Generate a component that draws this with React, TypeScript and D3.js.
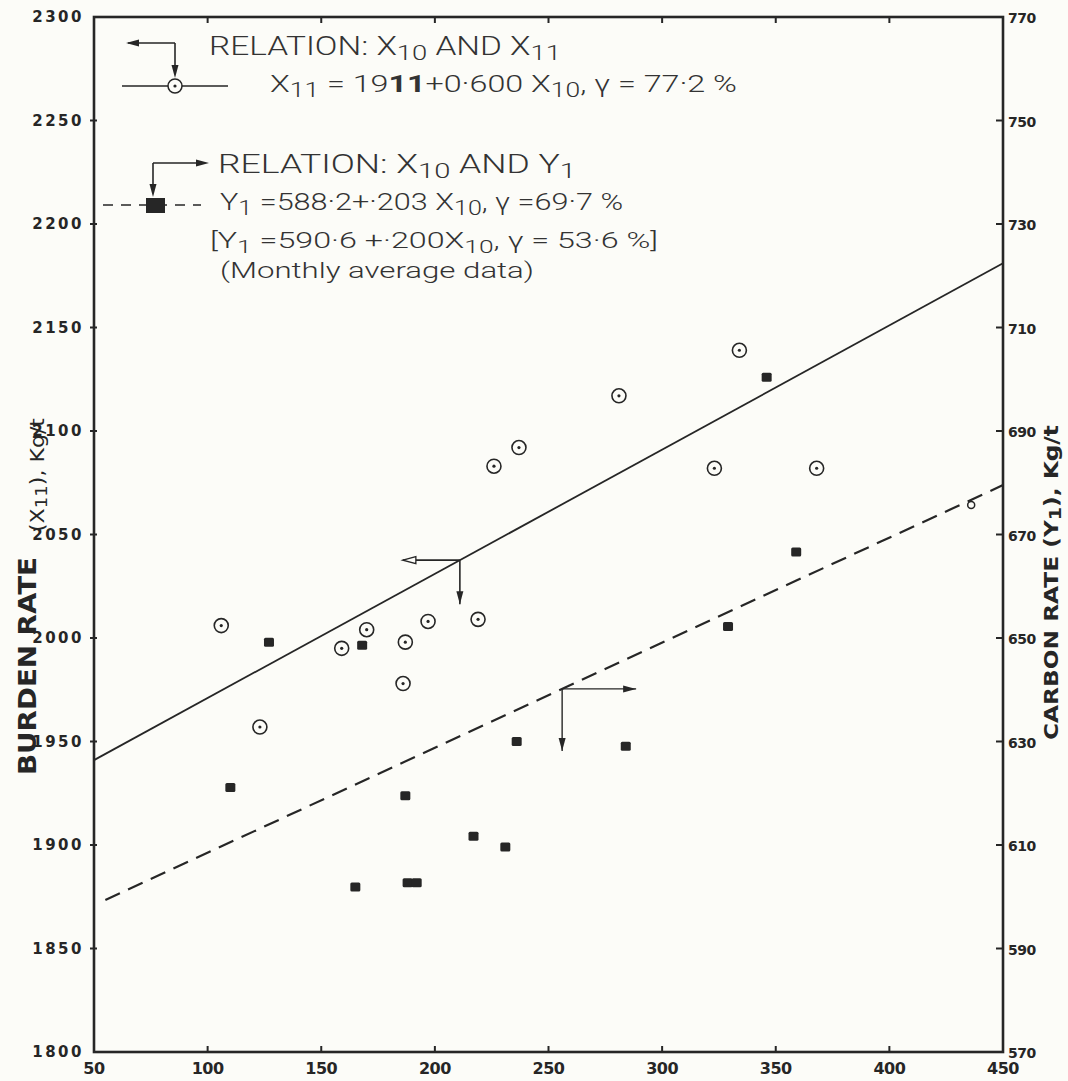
import React from "react";
import * as d3 from "d3";

// Scanned figure: burden rate (X11) and carbon rate (Y1) vs X10
const xTicks = [50, 100, 150, 200, 250, 300, 350, 400, 450];
const leftTicks = [1800, 1850, 1900, 1950, 2000, 2050, 2100, 2150, 2200, 2250, 2300];
const rightTicks = [570, 590, 610, 630, 650, 670, 690, 710, 730, 750, 770];

// X11 observations (open circles, left axis)
const circleX10 = [106, 159, 170, 187, 186, 197, 219, 226, 237, 281, 334, 323, 368, 123];
const circleX11 = [2006, 1995, 2004, 1998, 1978, 2008, 2009, 2083, 2092, 2117, 2139, 2082, 2082, 1957];

// Y1 observations (filled squares, right axis)
const squareX10 = [127, 168, 346, 359, 329, 236, 284, 110, 187, 217, 231, 165, 188, 192];
const squareY1 = [649.2, 648.6, 700.4, 666.6, 652.2, 630, 629.1, 621.1, 619.5, 611.7, 609.6, 601.9, 602.7, 602.7];

// small open mark sitting on the dashed line
const smallX10 = [436];
const smallY1 = [675.7];

// regression lines from the legend
const fitX11 = { a: 1911, b: 0.6, from: 50, to: 450 };
const fitY1 = { a: 588.2, b: 0.203, from: 55, to: 450 };

// where the reading arrows leave each line
const arrowX11At = 211;
const arrowY1At = 256;

const ink = "#262626";
const paper = "#fcfcf8";

type Part = { t: string; sub?: boolean; bold?: boolean };

// text pieces with lowered subscripts
function rich(parts: Part[], shift = 5) {
  let down = false;
  return parts.map((p, i) => {
    let dy = 0;
    if (p.sub && !down) { dy = shift; down = true; }
    else if (!p.sub && down) { dy = -shift; down = false; }
    return (
      <tspan key={i} dy={dy || undefined} fontSize={p.sub ? "0.82em" : undefined}
        fontWeight={p.bold ? "bold" : undefined}>
        {p.t}
      </tspan>
    );
  });
}

function head(x: number, y: number, dir: string, len = 13, w = 3.5) {
  if (dir === "left") return `M${x},${y}L${x + len},${y - w}L${x + len},${y + w}Z`;
  if (dir === "right") return `M${x},${y}L${x - len},${y - w}L${x - len},${y + w}Z`;
  return `M${x},${y}L${x - w},${y - len}L${x + w},${y - len}Z`;
}

export default function App() {
  const width = 1068;
  const height = 1081;

  const x = d3.scaleLinear().domain([50, 450]).range([94, 1003]);
  const yL = d3.scaleLinear().domain([1800, 2300]).range([1052, 17]);
  const yR = d3.scaleLinear().domain([570, 770]).range([1052, 17]);

  const left = x(50), right = x(450), top = yL(2300), bottom = yL(1800);

  const solid = d3.line<number>()
    .x(d => x(d))
    .y(d => yL(fitX11.a + fitX11.b * d))([fitX11.from, fitX11.to]);
  const dashed = d3.line<number>()
    .x(d => x(d))
    .y(d => yR(fitY1.a + fitY1.b * d))([fitY1.from, fitY1.to]);

  const aX = x(arrowX11At), aY = yL(fitX11.a + fitX11.b * arrowX11At);
  const bX = x(arrowY1At), bY = yR(fitY1.a + fitY1.b * arrowY1At);

  const tickFont = "'DejaVu Sans', sans-serif";
  const legendFont = "Roboto, 'Liberation Sans', sans-serif";

  return (
    <div style={{ position: "absolute", left: 0, top: 0 }}>
      <svg width={width} height={height} style={{ display: "block", background: paper }}>
        {/* frame */}
        <rect x={left} y={top} width={right - left} height={bottom - top} fill="none" stroke={ink} strokeWidth={2.6} />

        {/* bottom / top ticks */}
        {xTicks.slice(1, -1).map(t => (
          <g key={"xt" + t}>
            <line x1={x(t)} x2={x(t)} y1={bottom} y2={bottom - 6} stroke={ink} strokeWidth={2} />
            <line x1={x(t)} x2={x(t)} y1={top} y2={top + 6} stroke={ink} strokeWidth={2} />
          </g>
        ))}
        {xTicks.map(t => (
          <text key={"xl" + t} x={x(t)} y={1068} textAnchor="middle" dominantBaseline="central"
            fontFamily={tickFont} fontWeight="bold" fontSize={16} fill={ink} letterSpacing={-0.5}>
            {t}
          </text>
        ))}

        {/* left axis */}
        {leftTicks.slice(1, -1).map(t => (
          <line key={"lt" + t} x1={left - 4} x2={left + 3} y1={yL(t)} y2={yL(t)} stroke={ink} strokeWidth={2} />
        ))}
        {leftTicks.map(t => (
          <text key={"ll" + t} x={84} y={yL(t)} textAnchor="end" dominantBaseline="central"
            fontFamily={tickFont} fontWeight="bold" fontSize={15} fill={ink} letterSpacing={2.5}>
            {t}
          </text>
        ))}

        {/* right axis */}
        {rightTicks.slice(1, -1).map(t => (
          <line key={"rt" + t} x1={right - 7} x2={right} y1={yR(t)} y2={yR(t)} stroke={ink} strokeWidth={2} />
        ))}
        {rightTicks.map(t => (
          <text key={"rl" + t} x={right + 5} y={yR(t) + 1} textAnchor="start" dominantBaseline="central"
            fontFamily={tickFont} fontWeight="bold" fontSize={14} fill={ink} letterSpacing={-0.5}>
            {t}
          </text>
        ))}

        {/* axis titles */}
        <g transform="translate(36,775) rotate(-90)">
          <text x={0} y={0} fontFamily={tickFont} fontWeight="bold" fontSize={24} fill={ink}
            textLength={218} lengthAdjust="spacingAndGlyphs">BURDEN RATE</text>
        </g>
        <g transform="translate(44,532) rotate(-90)">
          <text x={0} y={0} fontFamily={tickFont} fontSize={20} fill={ink}
            textLength={114} lengthAdjust="spacingAndGlyphs">
            {rich([{ t: "(X" }, { t: "11", sub: true }, { t: "), Kg/t" }], 3)}
          </text>
        </g>
        <g transform="translate(1058,740) rotate(-90)">
          <text x={0} y={0} fontFamily={tickFont} fontWeight="bold" fontSize={20} fill={ink}
            textLength={315} lengthAdjust="spacingAndGlyphs">
            {rich([{ t: "CARBON RATE (Y" }, { t: "1", sub: true }, { t: "), Kg/t" }], 3)}
          </text>
        </g>

        {/* regression lines */}
        <path d={solid ?? ""} fill="none" stroke={ink} strokeWidth={1.8} />
        <path d={dashed ?? ""} fill="none" stroke={ink} strokeWidth={2.2} strokeDasharray="16 9" />

        {/* reading arrows */}
        <line x1={aX} y1={aY} x2={aX - 57} y2={aY} stroke={ink} strokeWidth={1.6} />
        <path d={head(aX - 57, aY, "left")} fill={paper} stroke={ink} strokeWidth={1.3} />
        <line x1={aX} y1={aY} x2={aX} y2={aY + 44} stroke={ink} strokeWidth={1.6} />
        <path d={head(aX, aY + 44, "down")} fill={ink} />
        <line x1={bX} y1={bY} x2={bX + 74} y2={bY} stroke={ink} strokeWidth={1.4} />
        <path d={head(bX + 74, bY, "right")} fill={ink} />
        <line x1={bX} y1={bY} x2={bX} y2={bY + 62} stroke={ink} strokeWidth={1.4} />
        <path d={head(bX, bY + 62, "down")} fill={ink} />

        {/* data: circles */}
        {circleX10.map((d, i) => (
          <g key={"c" + i}>
            <circle cx={x(d)} cy={yL(circleX11[i])} r={7} fill="none" stroke={ink} strokeWidth={1.6} />
            <circle cx={x(d)} cy={yL(circleX11[i])} r={1.6} fill={ink} />
          </g>
        ))}
        {/* data: squares */}
        {squareX10.map((d, i) => (
          <rect key={"s" + i} x={x(d) - 5} y={yR(squareY1[i]) - 4.5} width={10} height={9} rx={1.5} fill={ink} />
        ))}
        {smallX10.map((d, i) => (
          <circle key={"m" + i} cx={x(d)} cy={yR(smallY1[i])} r={3.5} fill={paper} stroke={ink} strokeWidth={1.5} />
        ))}

        {/* legend 1 */}
        <line x1={128} y1={43} x2={175} y2={43} stroke={ink} strokeWidth={1.6} />
        <path d={head(126, 43, "left")} fill={ink} />
        <line x1={175} y1={43} x2={175} y2={70} stroke={ink} strokeWidth={1.6} />
        <path d={head(175, 78, "down")} fill={ink} />
        <line x1={122} y1={86} x2={228} y2={86} stroke={ink} strokeWidth={1.3} />
        <circle cx={175} cy={86} r={7} fill={paper} stroke={ink} strokeWidth={1.5} />
        <circle cx={175} cy={86} r={1.6} fill={ink} />

        <g fontFamily={legendFont} fontWeight={300} fill="#333">
          <text x={209} y={55} fontSize={25} textLength={352} lengthAdjust="spacingAndGlyphs">
            {rich([{ t: "RELATION:  X" }, { t: "10", sub: true }, { t: " AND X" }, { t: "11", sub: true }])}
          </text>
          <text x={270} y={92} fontSize={24} textLength={467} lengthAdjust="spacingAndGlyphs">
            {rich([
              { t: "X" }, { t: "11", sub: true }, { t: " = 19" }, { t: "11", bold: true },
              { t: "+0·600 X" }, { t: "10", sub: true }, { t: ", γ = 77·2 %" },
            ])}
          </text>
          <text x={218} y={173} fontSize={25} textLength={358} lengthAdjust="spacingAndGlyphs">
            {rich([{ t: "RELATION: X" }, { t: "10", sub: true }, { t: "  AND  Y" }, { t: "1", sub: true }])}
          </text>
          <text x={220} y={210} fontSize={24} textLength={403} lengthAdjust="spacingAndGlyphs">
            {rich([{ t: "Y" }, { t: "1", sub: true }, { t: " =588·2+·203 X" }, { t: "10", sub: true }, { t: ", γ =69·7 %" }])}
          </text>
          <text x={210} y={248} fontSize={22} textLength={448} lengthAdjust="spacingAndGlyphs">
            {rich([{ t: "[Y" }, { t: "1", sub: true }, { t: " =590·6 +·200X" }, { t: "10", sub: true }, { t: ", γ = 53·6 %]" }])}
          </text>
          <text x={220} y={278} fontSize={22} textLength={314} lengthAdjust="spacingAndGlyphs">
            (Monthly average data)
          </text>
        </g>

        {/* legend 2 */}
        <line x1={153} y1={163} x2={153} y2={190} stroke={ink} strokeWidth={1.6} />
        <path d={head(153, 197, "down")} fill={ink} />
        <line x1={153} y1={163} x2={200} y2={163} stroke={ink} strokeWidth={1.6} />
        <path d={head(209, 163, "right")} fill={ink} />
        <line x1={103} y1={205} x2={201} y2={205} stroke={ink} strokeWidth={1.6} strokeDasharray="10 8" />
        <rect x={146} y={198} width={19} height={15} fill={ink} />
      </svg>
    </div>
  );
}
